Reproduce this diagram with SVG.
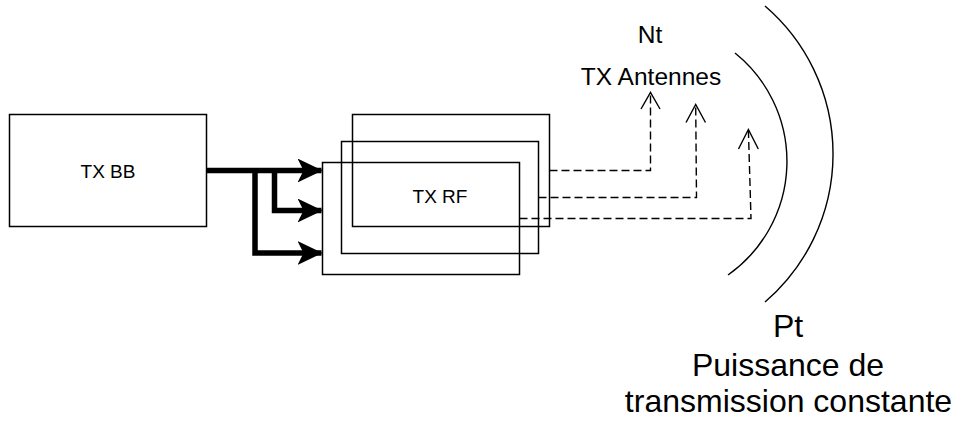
<svg xmlns="http://www.w3.org/2000/svg" width="960" height="426" viewBox="0 0 960 426">
<defs>
<style>
.box{fill:none;stroke:#000;stroke-width:1.5}
.lbl{font-family:"Liberation Sans",Arial,sans-serif;fill:#000;text-anchor:middle}
.thick{fill:none;stroke:#000;stroke-width:5.5;stroke-linejoin:miter}
.dash{fill:none;stroke:#000;stroke-width:1.4;stroke-dasharray:8,4}
.vhead{fill:none;stroke:#000;stroke-width:1.4}
.arc{fill:none;stroke:#000;stroke-width:1.4}
</style>
<marker id="fat" viewBox="0 0 25 24" refX="24" refY="12" markerWidth="25" markerHeight="24" markerUnits="userSpaceOnUse" orient="auto">
<path d="M0,0 L25,12 L0,24 L6,12 Z" fill="#000"/>
</marker>
</defs>
<rect width="960" height="426" fill="#fff"/>

<g id="txbb">
<rect class="box" x="9.5" y="114.5" width="197" height="112"/>
<text class="lbl" x="108" y="178" font-size="19">TX BB</text>
</g>

<g id="txrf">
<rect class="box" x="352.5" y="114.5" width="197" height="112"/>
<rect class="box" x="341.5" y="141.5" width="197" height="112"/>
<rect class="box" x="322.5" y="162.5" width="197" height="112"/>
<text class="lbl" x="440" y="203" font-size="19">TX RF</text>
</g>

<g id="antennes">
<text class="lbl" x="650" y="42.5" font-size="24.5">Nt</text>
<text class="lbl" x="651" y="84.5" font-size="24.5">TX Antennes</text>
</g>

<g id="waves">
<path class="arc" d="M765,6 A195,195 0 0 1 765,302"/>
<path class="arc" d="M735,53 A139,139 0 0 1 728,275"/>
</g>

<g id="puissance">
<text class="lbl" x="788" y="336.5" font-size="32">Pt</text>
<text class="lbl" x="788" y="376" font-size="32">Puissance de</text>
<text class="lbl" x="788.5" y="411.5" font-size="32">transmission constante</text>
</g>

<g id="connectors">
<path class="thick" d="M207,170.5 H321.5" marker-end="url(#fat)"/>
<path class="thick" d="M274.5,170.5 V210.5 H321.5" marker-end="url(#fat)"/>
<path class="thick" d="M255,170.5 V253 H321.5" marker-end="url(#fat)"/>

<path class="dash" d="M549.5,170.5 H650.5 V93"/>
<path class="vhead" d="M641,109 L650.5,92.5 L660,109"/>
<path class="dash" d="M538.5,197.5 H696.5 L695.7,105"/>
<path class="vhead" d="M686,122.5 L695.7,104.5 L705.5,122.5"/>
<path class="dash" d="M519.5,218.5 H751 L748.4,130"/>
<path class="vhead" d="M738.5,149 L748.4,129.5 L758.3,149"/>
</g>
</svg>
